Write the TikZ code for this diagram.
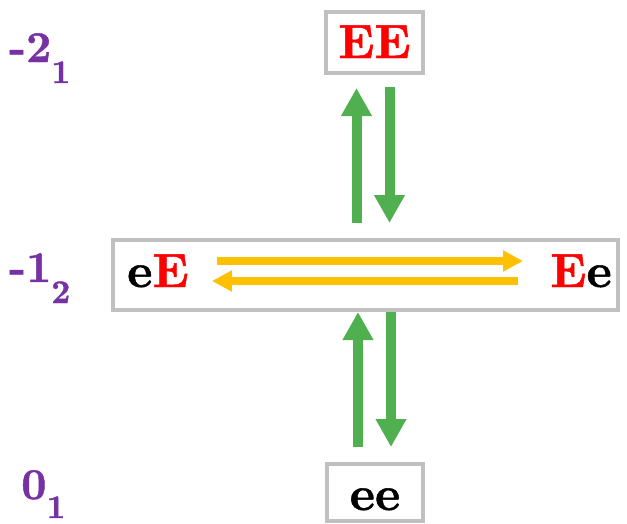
\documentclass[tikz,border=0pt]{standalone}
\usepackage{fontspec}
\newfontfamily\heavyfont{lmroman10-bold.otf}[FakeBold=1]
\usetikzlibrary{arrows.meta}
\definecolor{gArrow}{RGB}{80,176,80}
\definecolor{yArrow}{RGB}{255,192,0}
\definecolor{bGray}{RGB}{192,192,192}
\definecolor{lPurple}{RGB}{118,50,165}
\definecolor{tRed}{RGB}{255,0,0}
\begin{document}
\begin{tikzpicture}[x=1pt,y=-1pt,
  box/.style={draw=bGray, line width=4pt, inner sep=0pt, fill=white},
  big/.style={font=\heavyfont\fontsize{48}{48}\selectfont},
  lab/.style={font=\heavyfont\fontsize{44}{44}\selectfont, text=lPurple, anchor=base west, inner sep=0pt},
  garrow/.style={draw=gArrow, line width=10pt, -{Triangle[length=28pt 0, width=29pt 0]}},
  yarrow/.style={draw=yArrow, line width=8pt, -{Triangle[length=20pt 0, width=20pt 0]}}]
\useasboundingbox (0,0) rectangle (627,523);
\fill[white] (0,0) rectangle (627,523);
% boxes
\node[box, big, minimum width=97pt, minimum height=61pt, text height=31pt, text depth=0pt] (top) at (374.5,42.5) {\textcolor{tRed}{EE}};
\node[box, minimum width=505pt, minimum height=70pt] (mid) at (365.5,275) {};
\node[big, inner sep=0pt, anchor=base west, text height=34pt, text depth=0pt] (eE) at (127,287) {e\textcolor{tRed}{E}};
\node[big, inner sep=0pt, anchor=base east, text height=34pt, text depth=0pt] (Ee) at (612,287) {\textcolor{tRed}{E}e};
\node[box, big, minimum width=96pt, minimum height=57pt, text height=35pt, text depth=0pt] (bot) at (375,492.5) {ee};
% level labels
\node[lab] (l2) at (9,62) {-2\raisebox{-21pt}{\fontsize{33}{33}\selectfont 1}};
\node[lab] (l1) at (9,282) {-1\raisebox{-21pt}{\fontsize{33}{33}\selectfont 2}};
\node[lab] (l0) at (21,499) {0\raisebox{-19pt}{\fontsize{33}{33}\selectfont 1}};
% green arrows, top pair
\coordinate (tL) at ([xshift=-18pt]top.south);
\coordinate (tR) at ([xshift=15pt]top.south);
\draw[garrow, shorten <=15pt, shorten >=13pt] (mid.north -| tL) -- (tL);
\draw[garrow, shorten <=12pt, shorten >=15pt] (tR) -- (mid.north -| tR);
% green arrows, bottom pair
\coordinate (bL) at ([xshift=-17pt]bot.north);
\coordinate (bR) at ([xshift=16pt]bot.north);
\draw[garrow, shorten <=15pt] (bL) -- (mid.south -| bL);
\draw[garrow, shorten >=15pt] (mid.south -| bR) -- (bR);
% yellow arrows
\draw[yarrow, shorten <=28pt, shorten >=27pt] ([yshift=9pt]eE.east) -- ([yshift=9pt]Ee.west);
\draw[yarrow, shorten <=32pt, shorten >=23pt] ([yshift=-11pt]Ee.west) -- ([yshift=-11pt]eE.east);
\end{tikzpicture}
\end{document}
